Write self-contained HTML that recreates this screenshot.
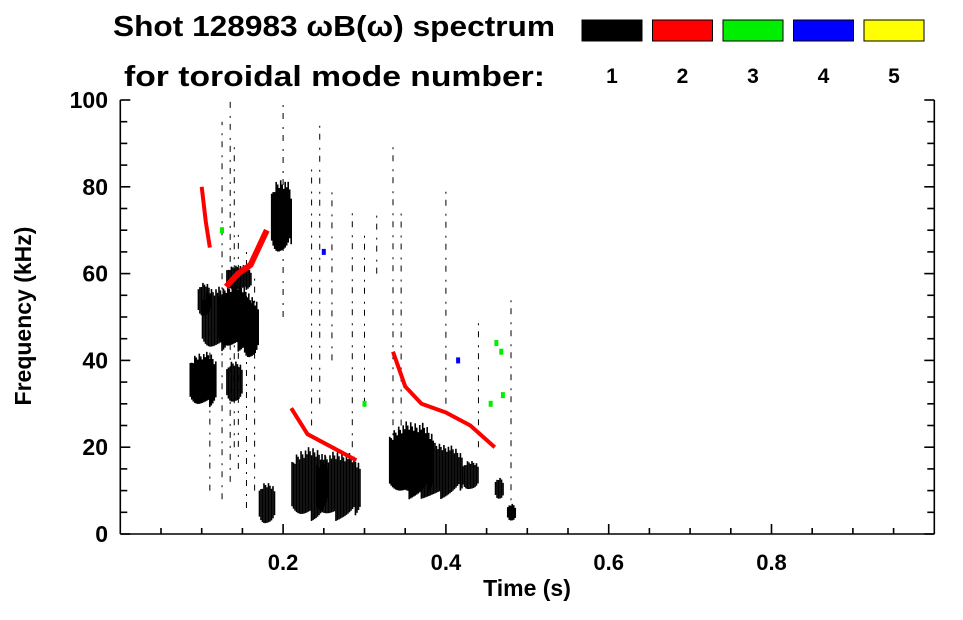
<!DOCTYPE html>
<html><head><meta charset="utf-8"><style>
html,body{margin:0;padding:0;background:#fff;}
svg text{font-family:"Liberation Sans",sans-serif;font-weight:bold;fill:#000;}
</style></head><body>
<svg id="c" width="963" height="615" viewBox="0 0 963 615" xmlns="http://www.w3.org/2000/svg">
<text x="113" y="36" font-size="29" textLength="442" lengthAdjust="spacingAndGlyphs">Shot 128983 ωB(ω) spectrum</text>
<text x="124" y="86" font-size="29" textLength="421" lengthAdjust="spacingAndGlyphs">for toroidal mode number:</text>
<g id="legend"></g>
<g id="marks"></g>
<g id="axes"></g>
<text x="527" y="596" font-size="23" text-anchor="middle">Time (s)</text>
<text transform="translate(31,316) rotate(-90)" font-size="23" text-anchor="middle">Frequency (kHz)</text>
</svg>
<script>
const modeLabels=["1","2","3","4","5"];
const modeColors=["#000000","#ff0000","#00ee00","#0000ff","#ffff00"];
const xTicks=[0.2,0.4,0.6,0.8];
const yTicks=[0,20,40,60,80,100];
// blobs: time range, freq range, mode index
const blobT0=[0.085,0.100,0.120,0.185,0.170,0.210,0.240,0.330,0.345,0.420,0.460,0.130,0.475,0.130,0.150,0.095];
const blobT1=[0.118,0.135,0.160,0.210,0.190,0.255,0.295,0.385,0.420,0.440,0.470,0.160,0.485,0.150,0.170,0.110];
const blobF0=[29,42,42,64,2,3,3,8,8,10,8,56,3,30,40,50];
const blobF1=[42,57,58,82,12,20,19,26,21,17,13,62,7,40,55,58];
const blobMode=[0,0,0,0,0,0,0,0,0,0,0,0,0,0,0,0];
// thin streaks
const streakT=[0.110,0.125,0.135,0.140,0.145,0.155,0.165,0.200,0.235,0.245,0.260,0.285,0.300,0.335,0.345,0.400,0.440,0.480,0.315];
const streakF0=[10,8,12,20,15,6,10,50,25,30,40,20,30,20,25,30,20,5,60];
const streakF1=[55,95,100,90,70,65,60,100,85,95,80,75,70,90,75,80,50,55,75];
// red (n=2) ridges
const redT=[0.100,0.105,0.110,0.130,0.145,0.160,0.170,0.180,0.210,0.230,0.260,0.290,0.335,0.350,0.370,0.400,0.430,0.460];
const redF=[80,72,66,57,60,62,66,70,29,23,20,17,42,34,30,28,25,20];
const redSeg=[0,0,0,1,1,1,1,1,2,2,2,2,3,3,3,3,3,3];
// green & blue spots
const spotT=[0.462,0.468,0.455,0.300,0.470,0.415,0.250,0.125];
const spotF=[44,42,30,30,32,40,65,70];
const spotMode=[2,2,2,2,2,3,3,2];

const svg=document.getElementById('c');
const NS="http://www.w3.org/2000/svg";
const X0=120.3,X1=934.3,Y0=534,Y1=100;
const xs=t=>X0+(X1-X0)*t;
const ys=f=>Y0-(Y0-Y1)*f/100;
function mk(tag,attrs,parent){const e=document.createElementNS(NS,tag);for(const k in attrs)e.setAttribute(k,attrs[k]);parent.appendChild(e);return e;}

const lg=document.getElementById('legend');
modeLabels.forEach((m,i)=>{
  const x=582+i*70.5;
  const r=mk('rect',{x:x,y:20,width:60,height:21,fill:modeColors[i],stroke:'#000','stroke-width':1},lg);
  
  
  const t=mk('text',{x:x+30,y:83,'font-size':21,'text-anchor':'middle'},lg);
  t.textContent=m;
  
  
});

const mg=document.getElementById('marks');
blobT0.forEach((t0,i)=>{
  const g=mk('g',{},mg);
  
  
  const xa=xs(t0),xb=xs(blobT1[i]);
  const ya=ys(blobF1[i]),yb=ys(blobF0[i]);
  const h=yb-ya;
  for(let x=xa,k=0;x<xb;x+=1.5,k++){
    const j1=((k*37)%11)/11, j2=((k*53)%13)/13;
    const mid=(x-xa)/(xb-xa);
    const shrink=1-Math.pow(Math.abs(2*mid-1),3);
    const top=ya+h*0.2*(1-shrink)+h*0.15*j1;
    const bot=yb-h*0.2*(1-shrink)-h*0.15*j2;
    mk('rect',{x:x,y:top,width:1.6,height:Math.max(1,bot-top),fill:modeColors[blobMode[i]]},g);
  }
});
streakT.forEach((t,i)=>{
  const l=mk('line',{x1:xs(t),x2:xs(t),y1:ys(streakF0[i]),y2:ys(streakF1[i]),stroke:'#000','stroke-width':1,'stroke-dasharray':'6 6 2 8'},mg);
  
  
});
let segs={};
redT.forEach((t,i)=>{(segs[redSeg[i]]=segs[redSeg[i]]||[]).push([xs(t),ys(redF[i])]);});
Object.keys(segs).forEach(s=>{
  const p=mk('polyline',{points:segs[s].map(a=>a.join(',')).join(' '),fill:'none',stroke:'#ff0000','stroke-width':s==1?6:4,'stroke-linejoin':'round'},mg);
  
  
});
spotT.forEach((t,i)=>{
  const r=mk('rect',{x:xs(t)-2,y:ys(spotF[i])-3,width:4,height:6,fill:modeColors[spotMode[i]]},mg);
  
  
});

const ax=document.getElementById('axes');
const st={stroke:'#000','stroke-width':1.6};
mk('line',Object.assign({x1:X0,x2:X0,y1:Y1,y2:Y0},st),ax);
mk('line',Object.assign({x1:X1,x2:X1,y1:Y1,y2:Y0},st),ax);
mk('line',Object.assign({x1:X0,x2:X1,y1:Y0,y2:Y0},st),ax);
for(let k=0;k<=20;k++){
  const f=k*5,y=ys(f),L=(k%4==0)?10:7;
  mk('line',Object.assign({x1:X0,x2:X0+L,y1:y,y2:y},st),ax);
  mk('line',Object.assign({x1:X1,x2:X1-L,y1:y,y2:y},st),ax);
}
for(let k=1;k<20;k++){
  const t=k*0.05,x=xs(t),L=(k%4==0)?10:6;
  mk('line',Object.assign({x1:x,x2:x,y1:Y0,y2:Y0-L},st),ax);
}
xTicks.forEach(t=>{
  const e=mk('text',{x:xs(t),y:570,'font-size':22,'text-anchor':'middle'},ax);
  e.textContent=t.toFixed(1);
  
  
});
yTicks.forEach(f=>{
  const e=mk('text',{x:108,y:ys(f)+8,'font-size':23,'text-anchor':'end'},ax);
  e.textContent=f;
  
  
});
</script>
</body></html>
